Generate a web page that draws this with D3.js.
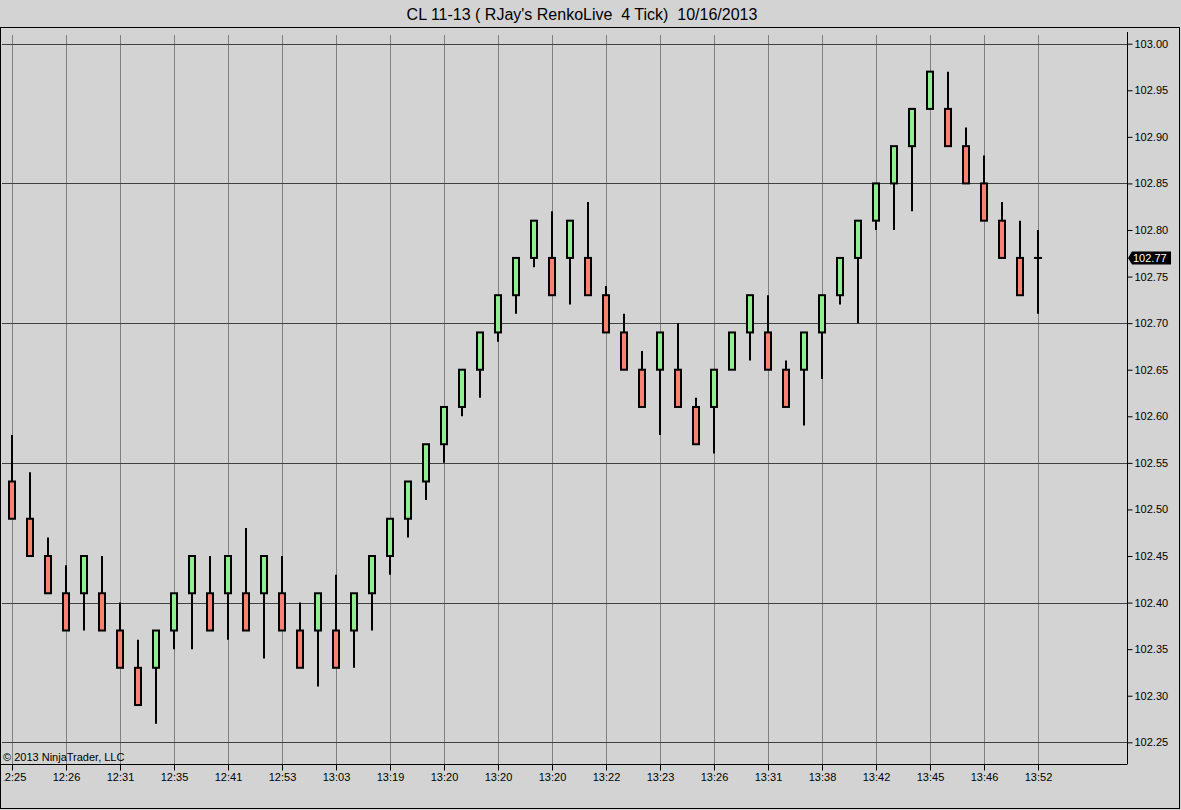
<!DOCTYPE html>
<html>
<head>
<meta charset="utf-8">
<script src="https://cdn.jsdelivr.net/npm/d3@7"></script>
<style>
  html, body { margin: 0; padding: 0; background: #d3d3d3; }
  svg { display: block; }
  text { font-family: Arial, "Liberation Sans", sans-serif; }
</style>
</head>
<body>
<svg id="chart" width="1181" height="810"></svg>
<script>
// ---------------- data ----------------
const chartTitle = "CL 11-13 ( RJay's RenkoLive  4 Tick)  10/16/2013";
const copyrightText = "\u00A9 2013 NinjaTrader, LLC";
const timeLabels = ["12:25","12:26","12:31","12:35","12:41","12:53","13:03","13:19","13:20","13:20",
                    "13:20","13:22","13:23","13:26","13:31","13:38","13:42","13:45","13:46","13:52"];
const opens  = [102.53,102.49,102.45,102.41,102.41,102.41,102.37,102.33,102.33,102.37,
                102.41,102.41,102.41,102.41,102.41,102.41,102.37,102.37,102.37,102.37,
                102.41,102.45,102.49,102.53,102.57,102.61,102.65,102.69,102.73,102.77,
                102.77,102.77,102.77,102.73,102.69,102.65,102.65,102.65,102.61,102.61,
                102.65,102.69,102.69,102.65,102.65,102.69,102.73,102.77,102.81,102.85,
                102.89,102.93,102.93,102.89,102.85,102.81,102.77,102.77];
const closes = [102.49,102.45,102.41,102.37,102.45,102.37,102.33,102.29,102.37,102.41,
                102.45,102.37,102.45,102.37,102.45,102.37,102.33,102.41,102.33,102.41,
                102.45,102.49,102.53,102.57,102.61,102.65,102.69,102.73,102.77,102.81,
                102.73,102.81,102.73,102.69,102.65,102.61,102.69,102.61,102.57,102.65,
                102.69,102.73,102.65,102.61,102.69,102.73,102.77,102.81,102.85,102.89,
                102.93,102.97,102.89,102.85,102.81,102.77,102.73,102.77];
const highs  = [102.58,102.54,102.47,102.44,102.45,102.45,102.40,102.36,102.37,102.41,
                102.45,102.45,102.45,102.48,102.45,102.45,102.40,102.41,102.43,102.41,
                102.45,102.49,102.53,102.57,102.61,102.65,102.69,102.73,102.77,102.81,
                102.82,102.81,102.83,102.74,102.71,102.67,102.69,102.70,102.62,102.65,
                102.69,102.73,102.73,102.66,102.69,102.73,102.77,102.81,102.85,102.89,
                102.93,102.97,102.97,102.91,102.88,102.83,102.81,102.80];
const lows   = [102.49,102.45,102.41,102.37,102.37,102.37,102.33,102.29,102.27,102.35,
                102.35,102.37,102.36,102.37,102.34,102.37,102.33,102.31,102.33,102.33,
                102.37,102.43,102.47,102.51,102.55,102.60,102.62,102.68,102.71,102.76,
                102.73,102.72,102.73,102.69,102.65,102.61,102.58,102.61,102.57,102.56,
                102.65,102.66,102.65,102.61,102.59,102.64,102.72,102.70,102.80,102.80,
                102.82,102.93,102.89,102.85,102.81,102.77,102.73,102.71];
const yTickValues = [102.25,102.30,102.35,102.40,102.45,102.50,102.55,102.60,102.65,
                     102.70,102.75,102.80,102.85,102.90,102.95,103.00];
const yGridValues = [102.25,102.40,102.55,102.70,102.85,103.00];
const lastPrice = 102.77;

// ---------------- layout ----------------
const svg = d3.select("#chart");
const plotLeft = 1, plotRight = 1127, plotTop = 32, plotBottom = 764;
const n = opens.length;
const x = d3.scaleLinear().domain([0, n - 1]).range([12, 1038]);
const y = d3.scaleLinear().domain([102.25, 103.00]).range([742.3, 43.7]);
const gridIdx = d3.range(0, n, 3);

// outer frame
svg.append("rect").attr("x", 0.5).attr("y", 27.5).attr("width", 1179).attr("height", 781)
  .attr("fill", "#d3d3d3").attr("stroke", "#000").attr("stroke-width", 1);

// title
svg.append("text").attr("x", 582).attr("y", 20).attr("text-anchor", "middle")
  .attr("font-size", 16).attr("fill", "#000").style("white-space", "pre")
  .text(chartTitle);

// clip for plot
svg.append("clipPath").attr("id", "plotClip").append("rect")
  .attr("x", plotLeft).attr("y", plotTop).attr("width", plotRight - plotLeft).attr("height", plotBottom - plotTop);

const plot = svg.append("g").attr("clip-path", "url(#plotClip)");

// vertical grid
plot.selectAll("line.vgrid").data(gridIdx).join("line")
  .attr("class", "vgrid")
  .attr("x1", d => Math.round(x(d)) + 0.5).attr("x2", d => Math.round(x(d)) + 0.5)
  .attr("y1", 35).attr("y2", plotBottom)
  .attr("stroke", "#808080").attr("stroke-width", 1);

// horizontal grid
plot.selectAll("line.hgrid").data(yGridValues).join("line")
  .attr("class", "hgrid")
  .attr("x1", 2).attr("x2", plotRight)
  .attr("y1", d => Math.round(y(d)) + 0.5).attr("y2", d => Math.round(y(d)) + 0.5)
  .attr("stroke", "#404040").attr("stroke-width", 1);

// candles
const bars = d3.range(n);
plot.selectAll("line.wick").data(bars).join("line")
  .attr("class", "wick")
  .attr("x1", i => x(i)).attr("x2", i => x(i))
  .attr("y1", i => y(highs[i])).attr("y2", i => y(lows[i]))
  .attr("stroke", "#000").attr("stroke-width", 2);

const bodyW = 6;
plot.selectAll("rect.body").data(bars.filter(i => opens[i] !== closes[i])).join("rect")
  .attr("class", "body")
  .attr("x", i => x(i) - bodyW / 2)
  .attr("y", i => y(Math.max(opens[i], closes[i])))
  .attr("width", bodyW)
  .attr("height", i => Math.abs(y(opens[i]) - y(closes[i])))
  .attr("fill", i => closes[i] > opens[i] ? "#90ee90" : "#fa8072")
  .attr("stroke", "#000").attr("stroke-width", 2);

plot.selectAll("line.doji").data(bars.filter(i => opens[i] === closes[i])).join("line")
  .attr("class", "doji")
  .attr("x1", i => x(i) - 4).attr("x2", i => x(i) + 4)
  .attr("y1", i => y(closes[i])).attr("y2", i => y(closes[i]))
  .attr("stroke", "#000").attr("stroke-width", 2);

// copyright
svg.append("text").attr("x", 3).attr("y", 761).attr("font-size", 11).attr("fill", "#000")
  .text(copyrightText);

// y axis
const yAxis = d3.axisRight(y).tickValues(yTickValues).tickFormat(d3.format(".2f")).tickSize(5).tickSizeOuter(0);
const yg = svg.append("g").attr("transform", `translate(${plotRight + 0.5},0)`).call(yAxis);
yg.select(".domain").attr("d", `M0,${plotTop}V${plotBottom}`).attr("stroke", "#000");
yg.selectAll(".tick line").attr("stroke", "#000");
yg.selectAll(".tick text").attr("x", 7).attr("font-size", 11).attr("font-family", "Arial, 'Liberation Sans', sans-serif").attr("fill", "#000");

// x axis
const xAxis = d3.axisBottom(x).tickValues(gridIdx).tickFormat((d, k) => timeLabels[k]).tickSize(6).tickSizeOuter(0);
const xg = svg.append("g").attr("transform", `translate(0,${plotBottom + 0.5})`).call(xAxis);
xg.select(".domain").attr("d", `M0,0H${plotRight + 0.5}`).attr("stroke", "#000");
xg.selectAll(".tick line").attr("stroke", "#000");
xg.selectAll(".tick text").attr("y", 9).attr("font-size", 11).attr("font-family", "Arial, 'Liberation Sans', sans-serif").attr("fill", "#000");
// clip the leftmost label at the frame edge
svg.append("clipPath").attr("id", "xlabClipLocal").append("rect")
  .attr("x", 3.2 - x(0)).attr("y", -5).attr("width", 40).attr("height", 40);
xg.selectAll(".tick").filter((d, k) => k === 0).attr("clip-path", "url(#xlabClipLocal)");

// last price marker
const py = Math.round(y(lastPrice));
const mk = svg.append("g");
mk.append("path")
  .attr("d", `M${plotRight + 1},${py} L${plotRight + 5},${py - 6.5} H${plotRight + 44} V${py + 6.5} H${plotRight + 5} Z`)
  .attr("fill", "#000");
mk.append("text").attr("x", plotRight + 6).attr("y", py + 4).attr("font-size", 11).attr("fill", "#fff")
  .text(d3.format(".2f")(lastPrice));
</script>
</body>
</html>
